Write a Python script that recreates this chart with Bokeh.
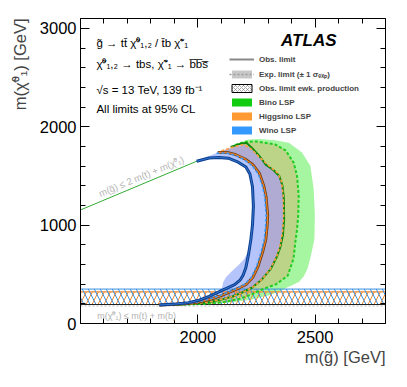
from bokeh.plotting import figure
from bokeh.models import (Range1d, LinearAxis, FixedTicker, Legend, LegendItem, Label, Title)
from bokeh.embed import file_html
from bokeh.resources import INLINE

# ---------------- data (m_gluino, m_neutralino) in GeV ----------------
# kinematic boundary m(g) = 2 m(t) + m(chi)
kin_x = [1500, 2000]
kin_y = [1154, 1654]
mtb_y = 178           # m(t) + m(b)

# Wino expected +-1 sigma band edges
wino_band_lo_x = [1985, 2030, 2076, 2133, 2172, 2205, 2224, 2234, 2236, 2230, 2222, 2212, 2196, 2172, 2145, 2120, 2108, 2104, 2098, 2060, 2010, 1950, 1880, 1836]
wino_band_lo_y = [1639, 1668, 1678, 1668, 1645, 1603, 1530, 1396, 1192, 1000, 850, 720, 650, 590, 530, 470, 420, 370, 335, 295, 250, 215, 195, 188]
wino_band_hi_x = [2095, 2150, 2200, 2232, 2262, 2295, 2335, 2358, 2369, 2370, 2366, 2354, 2338, 2312, 2276, 2234, 2190, 2147, 2100, 2040, 1960, 1880, 1836]
wino_band_hi_y = [1749, 1790, 1820, 1778, 1700, 1620, 1545, 1460, 1300, 1100, 930, 780, 684, 560, 455, 370, 318, 276, 244, 214, 197, 190, 188]

# Higgsino expected +-1 sigma band edges
higg_band_lo_x = [2090, 2125, 2161, 2200, 2235, 2262, 2280, 2290, 2297, 2295, 2289, 2276, 2256, 2234, 2206, 2176, 2134, 2090, 2048, 2000, 1950, 1880, 1836]
higg_band_lo_y = [1744, 1740, 1715, 1672, 1610, 1525, 1400, 1290, 1100, 1000, 854, 730, 580, 470, 400, 362, 318, 275, 243, 217, 202, 192, 188]
higg_band_hi_x = [2160, 2200, 2250, 2331, 2374, 2409, 2423, 2430, 2428, 2423, 2417, 2408, 2383, 2333, 2276, 2232, 2176, 2100, 2020, 1930, 1836]
higg_band_hi_y = [1814, 1846, 1850, 1819, 1760, 1633, 1497, 1300, 1100, 960, 854, 660, 485, 398, 348, 298, 248, 214, 199, 192, 188]

# Bino expected +-1 sigma band edges
bino_band_lo_x = [2150, 2205, 2230, 2260, 2290, 2320, 2347, 2360, 2367, 2368, 2362, 2351, 2338, 2310, 2274, 2232, 2189, 2147, 2100, 2050, 1990, 1900, 1836]
bino_band_lo_y = [1804, 1840, 1785, 1705, 1610, 1562, 1497, 1400, 1260, 1060, 900, 770, 684, 552, 450, 366, 315, 274, 243, 218, 200, 191, 188]
bino_band_hi_x = [2215, 2265, 2330, 2388, 2444, 2480, 2494, 2499, 2497, 2484, 2468, 2452, 2432, 2404, 2380, 2350, 2300, 2230, 2150, 2060, 1950, 1836]
bino_band_hi_y = [1869, 1874, 1862, 1836, 1738, 1600, 1362, 1100, 860, 710, 560, 480, 425, 392, 365, 325, 285, 245, 215, 198, 191, 188]

# observed / expected contours
wino_obs_x = [1995, 2048, 2090, 2130, 2172, 2205, 2222, 2233, 2237, 2233, 2226, 2216, 2205, 2193, 2180, 2157, 2127, 2092, 2048, 2006, 1960, 1900, 1836]
wino_obs_y = [1649, 1682, 1688, 1680, 1640, 1590, 1520, 1390, 1192, 1000, 850, 700, 570, 490, 440, 395, 362, 325, 275, 237, 212, 197, 188]
wino_exp_x = [2080, 2120, 2158, 2196, 2231, 2257, 2275, 2285, 2291, 2289, 2283, 2270, 2250, 2228, 2200, 2170, 2128, 2084, 2042, 1995, 1945, 1875, 1836]
wino_exp_y = [1730, 1735, 1710, 1668, 1606, 1522, 1400, 1290, 1100, 1000, 854, 730, 580, 470, 400, 362, 318, 275, 243, 217, 202, 192, 188]

higg_obs_x = [2085, 2125, 2162, 2201, 2236, 2263, 2281, 2291, 2298, 2296, 2290, 2277, 2257, 2235, 2207, 2177, 2135, 2091, 2049, 2001, 1951, 1881, 1836]
higg_obs_y = [1739, 1740, 1716, 1673, 1611, 1526, 1401, 1290, 1100, 1000, 854, 730, 580, 470, 400, 362, 318, 275, 243, 217, 202, 192, 188]
higg_exp_x = [2100, 2160, 2195, 2230, 2262, 2300, 2340, 2356, 2364, 2366, 2362, 2352, 2336, 2310, 2278, 2240, 2200, 2160, 2110, 2050, 1990, 1900, 1836]
higg_exp_y = [1754, 1800, 1818, 1770, 1690, 1610, 1530, 1450, 1300, 1100, 950, 800, 680, 560, 460, 380, 325, 285, 250, 220, 202, 192, 188]

bino_obs_x = [2140, 2180, 2208, 2232, 2262, 2292, 2322, 2348, 2361, 2367, 2368, 2363, 2351, 2338, 2310, 2274, 2232, 2189, 2147, 2100, 2050, 1990, 1900, 1836]
bino_obs_y = [1794, 1826, 1835, 1782, 1703, 1608, 1560, 1497, 1400, 1260, 1060, 900, 770, 684, 552, 450, 366, 315, 274, 243, 218, 200, 191, 188]
bino_exp_x = [2160, 2200, 2250, 2331, 2374, 2409, 2423, 2430, 2428, 2423, 2417, 2408, 2383, 2333, 2276, 2232, 2176, 2100, 2020, 1930, 1836]
bino_exp_y = [1814, 1846, 1850, 1819, 1760, 1633, 1497, 1300, 1100, 960, 854, 660, 485, 398, 348, 298, 248, 214, 199, 192, 188]

# electroweak-production observed limits (hatched bands)
ewk_x = [1500, 2800]
ewk_lo = 193
wino_ewk_hi = 350
higg_ewk_hi = 322

x_major = [2000, 2500]
x_minor = list(range(1600, 2800, 100))
y_major = [0, 1000, 2000, 3000]
y_minor = list(range(200, 3100, 200))

FONT = "Liberation Sans"
NAN = [float("nan")]

p = figure(width=397, height=378, x_range=Range1d(1500, 2800), y_range=Range1d(0, 3100),
           output_backend="svg", toolbar_location=None,
           min_border_left=79, min_border_right=12, min_border_top=18, min_border_bottom=55)
p.xgrid.visible = False
p.ygrid.visible = False
p.outline_line_color = "black"
p.outline_line_width = 1
p.background_fill_color = "white"

def style_axis(ax, ticks, minor, labels=True, standoff=4):
    ax.ticker = FixedTicker(ticks=ticks, minor_ticks=minor)
    ax.major_tick_in = 9
    ax.major_tick_out = 0
    ax.minor_tick_in = 5
    ax.minor_tick_out = 0
    ax.axis_line_color = "black"
    ax.major_tick_line_color = "black"
    ax.minor_tick_line_color = "black"
    if labels:
        ax.major_label_text_font = FONT
        ax.major_label_text_font_size = "16.5px"
        ax.major_label_text_color = "black"
        ax.major_label_standoff = standoff
    else:
        ax.major_label_overrides = {t: "" for t in ticks}
        ax.major_label_text_font_size = "1px"
        ax.major_label_standoff = 0

style_axis(p.xaxis[0], x_major, x_minor, standoff=7)
style_axis(p.yaxis[0], y_major, y_minor)
ax_top = LinearAxis()
style_axis(ax_top, x_major, x_minor, labels=False)
p.add_layout(ax_top, "above")
ax_right = LinearAxis()
style_axis(ax_right, y_major, y_minor, labels=False)
p.add_layout(ax_right, "right")

# ---- bands ----
p.patch(bino_band_lo_x + bino_band_hi_x[::-1], bino_band_lo_y + bino_band_hi_y[::-1],
        fill_color="#20E611", fill_alpha=0.4, line_color=None)
p.patch(higg_band_lo_x + higg_band_hi_x[::-1], higg_band_lo_y + higg_band_hi_y[::-1],
        fill_color="#E6985D", fill_alpha=0.35, line_color=None)
p.patch(wino_band_lo_x + wino_band_hi_x[::-1], wino_band_lo_y + wino_band_hi_y[::-1],
        fill_color="#0A3CF0", fill_alpha=0.3, line_color=None)

# ---- ewk hatched regions ----
p.quad(left=ewk_x[0], right=ewk_x[1], bottom=ewk_lo, top=higg_ewk_hi,
       fill_alpha=0, line_color="#F08A30", line_width=1.2,
       hatch_pattern="/", hatch_color="#F08A30", hatch_scale=12, hatch_weight=1)
p.quad(left=ewk_x[0], right=ewk_x[1], bottom=ewk_lo, top=wino_ewk_hi,
       fill_alpha=0, line_color="#3A8FE0", line_width=1,
       hatch_pattern="\\", hatch_color="#3A8FE0", hatch_scale=12, hatch_weight=1)
p.line(ewk_x, [ewk_lo, ewk_lo], line_color="#222222", line_width=1)

# ---- kinematic lines ----
p.line(kin_x, kin_y, line_color="#33AA33", line_width=1)
p.line(ewk_x, [mtb_y, mtb_y], line_color="#BBBBBB", line_width=1, line_dash="2 2")

# ---- contours ----
p.line(bino_exp_x, bino_exp_y, line_color="#22CC22", line_width=2, line_dash="3 2")
p.line(bino_obs_x, bino_obs_y, line_color="#0A8A0A", line_width=2)
p.line(higg_exp_x, higg_exp_y, line_color="#FFA040", line_width=1.6, line_dash="3 2")
p.line(higg_obs_x, higg_obs_y, line_color="#6B3A10", line_width=2.8)
p.line(higg_obs_x, higg_obs_y, line_color="#F07F1E", line_width=1.2)
p.line(wino_exp_x, wino_exp_y, line_color="#3399FF", line_width=1.4, line_dash="3 2")
p.line(wino_obs_x, wino_obs_y, line_color="#0B3D91", line_width=3)
p.line(wino_obs_x, wino_obs_y, line_color="#3377CC", line_width=1)

# ---- legend (proxy renderers, nothing drawn in the frame) ----
r_obs = p.line(NAN, NAN, line_color="#888888", line_width=2)
r_expb = p.patch(NAN, NAN, fill_color="#C8C8C8", line_color=None)
r_expl = p.line(NAN, NAN, line_color="#9A9A9A", line_width=1.5, line_dash="2 2")
r_ewk = p.patch(NAN, NAN, fill_color="white", line_color="black", line_width=1,
                hatch_pattern="x", hatch_color="#777777", hatch_scale=4, hatch_weight=0.6)
r_bino = p.patch(NAN, NAN, fill_color="#11CC11", line_color=None)
r_higg = p.patch(NAN, NAN, fill_color="#FF9933", line_color=None)
r_wino = p.patch(NAN, NAN, fill_color="#3399FF", line_color=None)

legend = Legend(items=[
    LegendItem(label="Obs. limit", renderers=[r_obs]),
    LegendItem(label="Exp. limit (\u00b1 1 \u03c3\u2091\u2093\u209a)", renderers=[r_expb, r_expl]),
    LegendItem(label="Obs. limit ewk. production", renderers=[r_ewk]),
    LegendItem(label="Bino LSP", renderers=[r_bino]),
    LegendItem(label="Higgsino LSP", renderers=[r_higg]),
    LegendItem(label="Wino LSP", renderers=[r_wino]),
], location=(149, 188), glyph_width=25, glyph_height=10, label_height=10, spacing=4,
   padding=0, margin=0, label_standoff=5, background_fill_alpha=0, border_line_color=None,
   label_text_font=FONT, label_text_font_size="8px", label_text_font_style="bold")
p.add_layout(legend)

# ---- texts ----
txt = dict(text_font=FONT, text_font_size="11.5px", text_color="black", text_baseline="alphabetic")
p.add_layout(Label(x=1568, y=2850, text="g\u0303 \u2192 tt\u0304 \u03c7\u0303\u2070\u2081,\u2082 / t\u0304b \u03c7\u0303\u207a\u2081", **txt))
p.add_layout(Label(x=1568, y=2635, text="\u03c7\u0303\u2070\u2081,\u2082 \u2192 tbs, \u03c7\u0303\u207a\u2081 \u2192 b\u0305b\u0305s\u0305", **txt))
p.add_layout(Label(x=1568, y=2370, text="\u221as = 13 TeV, 139 fb\u207b\u00b9", **txt))
p.add_layout(Label(x=1568, y=2185, text="All limits at 95% CL", **txt))
p.add_layout(Label(x=2355, y=2875, text="ATLAS", text_font=FONT, text_font_size="17px",
                   text_font_style="bold italic", text_color="black", text_baseline="alphabetic"))

p.add_layout(Label(x=1580, y=1318, text="m(g\u0303) \u2264 2 m(t) + m(\u03c7\u0303\u2070\u2081)", angle=0.396,
                   text_font=FONT, text_font_size="9.5px", text_color="#B4B4B4", text_baseline="alphabetic"))
p.add_layout(Label(x=1571, y=81, text="m(\u03c7\u0303\u2070\u2081) \u2264 m(t) + m(b)",
                   text_font=FONT, text_font_size="9px", text_color="#B4B4B4", text_baseline="alphabetic"))

# ---- axis titles ----
p.add_layout(Title(text="m(g\u0303) [GeV]", align="right", vertical_align="bottom", standoff=0,
                   text_font=FONT, text_font_size="16.5px", text_font_style="normal"), "below")
p.add_layout(Title(text="m(\u03c7\u0303\u2070\u2081) [GeV]", align="right", standoff=16, text_font=FONT,
                   text_font_size="16.5px", text_font_style="normal"), "left")

open("out.html", "w").write(file_html(p, INLINE))
